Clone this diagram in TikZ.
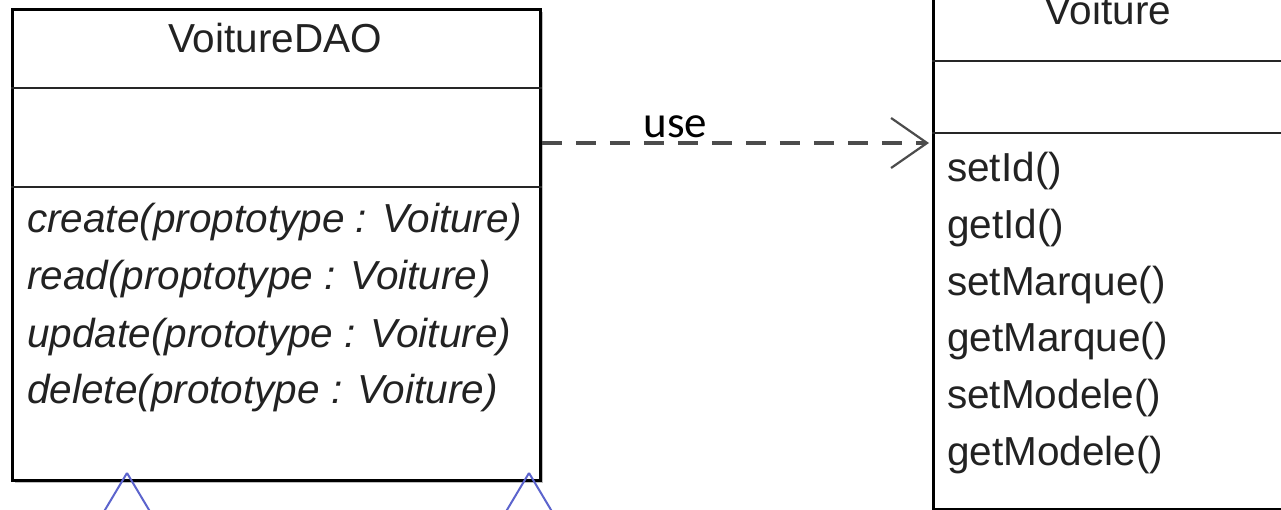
\documentclass[tikz,border=0pt]{standalone}
\usepackage{fontspec}
\setmainfont{Liberation Sans}
\newfontfamily\labelfont{Carlito}
\usetikzlibrary{arrows.meta,shadows}

\definecolor{genblue}{RGB}{92,100,205}
\definecolor{inkgray}{RGB}{34,34,34}

\begin{document}
\begin{tikzpicture}[x=1pt,y=-1pt,
  umlbox/.style={draw=black, line width=2.8pt, fill=white, inner sep=0pt,
                 anchor=north west},
  boxshadow/.style={drop shadow={shadow xshift=3pt, shadow yshift=-3pt,
                 fill=black, opacity=0.25}},
  sepline/.style={draw=black!85, line width=2.4pt},
  classname/.style={anchor=base, inner sep=0pt, text=inkgray,
                 font=\fontsize{40.5}{48}\selectfont},
  member/.style={anchor=base west, inner sep=0pt, text=inkgray,
                 font=\fontsize{40.5}{48}\selectfont},
  absmember/.style={member, font=\fontsize{40.5}{48}\selectfont\itshape},
  depline/.style={draw=black!70, line width=3.6pt, dash pattern=on 20pt off 14pt,
                 -{Straight Barb[length=36pt, width=50pt, line width=2.2pt]}},
  genline/.style={draw=genblue, line width=2pt}
]
\useasboundingbox (0,0) rectangle (1281,510);
\fill[white] (0,0) rectangle (1281,510);
\clip (0,0) rectangle (1281,510);

% ---- class VoitureDAO ----
\node[umlbox, boxshadow, minimum width=528, minimum height=471] (dao) at (11,8) {};
\draw[sepline] (dao.west |- 0,88) -- (dao.east |- 0,88);
\draw[sepline] (dao.west |- 0,187) -- (dao.east |- 0,187);
\node[classname] (daoname) at (275,53) {VoitureDAO};
\node[absmember] (m1) at (27,233) {create(proptotype : Voiture)};
\node[absmember] (m2) at (27,290) {read(proptotype : Voiture)};
\node[absmember] (m3) at (27,347) {update(prototype : Voiture)};
\node[absmember] (m4) at (27,403) {delete(prototype : Voiture)};

% ---- class Voiture ----
\node[umlbox, minimum width=352, minimum height=528] (voiture) at (932,-20) {};
\draw[sepline] (voiture.west |- 0,61) -- (voiture.east |- 0,61);
\draw[sepline] (voiture.west |- 0,133) -- (voiture.east |- 0,133);
\node[classname] (voiturename) at (1108,25) {Voiture};
\node[member] (v1) at (947,182) {setId()};
\node[member] (v2) at (947,238.6) {getId()};
\node[member] (v3) at (947,295.2) {setMarque()};
\node[member] (v4) at (947,351.8) {getMarque()};
\node[member] (v5) at (947,408.4) {setModele()};
\node[member] (v6) at (947,465) {getModele()};

% ---- dependency "use" ----
\coordinate (useA) at (dao.east |- 0,143);
\coordinate (useB) at ([xshift=-3pt]voiture.west |- 0,143);
\draw[depline] (useA) -- (useB)
  node[pos=0.345, anchor=base, yshift=5pt, inner sep=0pt,
       font=\labelfont\fontsize{45}{54}\selectfont] (uselabel) {use};

% ---- generalisation arrows coming up from below ----
\coordinate (gen1) at (127,473);
\coordinate (gen2) at (529,473);
\draw[genline] (gen1) -- ++(-34,57) (gen1) -- ++(34,57);
\draw[genline] (gen2) -- ++(-34,57) (gen2) -- ++(34,57);
\end{tikzpicture}
\end{document}
